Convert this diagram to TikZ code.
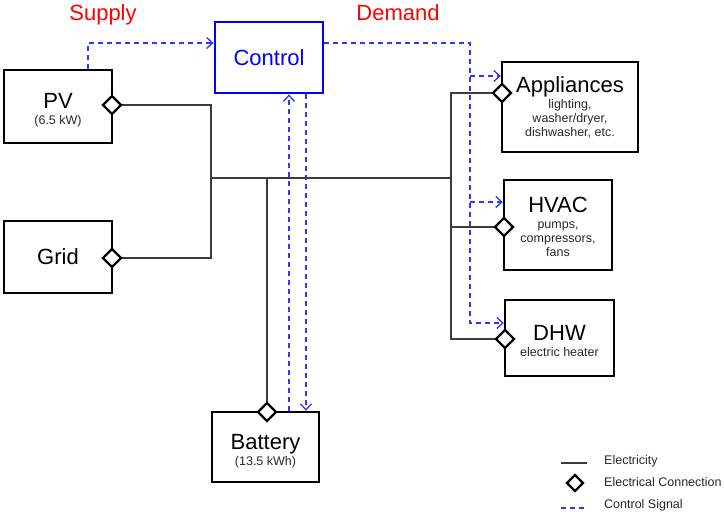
\documentclass[tikz,border=0pt]{standalone}
\usepackage{fontspec}
\setmainfont{Liberation Sans}
\usetikzlibrary{shapes.geometric,arrows.meta}
\definecolor{ctlblue}{RGB}{45,55,255}
\definecolor{elecc}{RGB}{60,60,60}
\definecolor{subc}{RGB}{40,40,40}
\newcommand\subt{\fontsize{12.5}{14}\selectfont\color{subc}}
\begin{document}
\begin{tikzpicture}[x=1pt,y=-1pt,
  box/.style={draw=black, line width=2.4pt, inner sep=0pt, align=center,
              font=\fontsize{22}{24}\selectfont},
  conn/.style={diamond, draw=black, line width=2.3pt, fill=white, inner sep=0pt,
               minimum width=19pt, minimum height=19pt},
  elec/.style={draw=elecc, line width=1.4pt},
  ctl/.style={draw=ctlblue, line width=1.3pt, dash pattern=on 5pt off 4pt},
  ctla/.style={ctl, -{Straight Barb[length=6pt,width=11pt]}},
  head/.style={text=red, font=\fontsize{22}{24}\selectfont, inner sep=0pt},
  legt/.style={anchor=west, inner sep=0pt, text=subc, font=\fontsize{12.5}{14}\selectfont}
]
\useasboundingbox (0,0) rectangle (724,516);

% headings
\node[head] (supply) at (103,15) {Supply};
\node[head] (demand) at (398,13) {Demand};

% boxes
\node[box, minimum width=108pt, minimum height=73pt] (pv) at (58,106.5)
  {\rule{0pt}{23pt}PV\\[-8pt]{\subt (6.5 kW)}};
\node[box, minimum width=108pt, minimum height=72pt] (grid) at (58,257) {Grid};
\node[box, draw=blue, line width=2.8pt, text=blue, minimum width=108pt, minimum height=71pt]
  (ctrl) at (269,57.5) {Control};
\node[box, minimum width=107pt, minimum height=70pt] (bat) at (265.5,447)
  {\rule{0pt}{23pt}Battery\\[-8pt]{\subt (13.5 kWh)}};
\node[box, minimum width=136pt, minimum height=90pt] (app) at (570,107)
  {Appliances\\[-8pt]{\subt lighting,}\\[-10pt]{\subt washer/dryer,}\\[-10pt]{\subt dishwasher, etc.}};
\node[box, minimum width=108pt, minimum height=90pt] (hvac) at (558,225)
  {\rule{0pt}{20pt}HVAC\\[-8pt]{\subt pumps,}\\[-10pt]{\subt compressors,}\\[-10pt]{\subt fans}};
\node[box, minimum width=109pt, minimum height=76pt] (dhw) at (559.5,338)
  {\rule{0pt}{22pt}DHW\\[-8pt]{\subt electric heater}};

% connection points
\coordinate (pvc) at (112,105);
\coordinate (gridc) at (112,258);
\coordinate (batc) at (267,412);
\coordinate (appc) at (502,93);
\coordinate (hvacc) at (504,227);
\coordinate (dhwc) at (505,339);

% bus coordinates
\coordinate (lbus) at (211,178);
\coordinate (rbus) at (451,178);

% electricity
\draw[elec] (pvc) -| (lbus) |- (gridc);
\draw[elec] (lbus) -- (rbus);
\draw[elec] (lbus -| batc) -- (batc);
\draw[elec] (appc) -| (rbus) |- (dhwc);
\draw[elec] (rbus |- hvacc) -- (hvacc);

% control signals
\coordinate (pvs) at (88,43);
\coordinate (dmd) at (470,43);
\coordinate (bup) at (289,0);
\coordinate (bdn) at (306,0);
\draw[ctla] (pv.north -| pvs) -- (pvs) -- (ctrl.west |- pvs);
\draw[ctla] (ctrl.east |- dmd) -- (dmd) |- (dhw.west |- 0,323);
\draw[ctla] (dmd |- 0,76) -- (app.west |- 0,76);
\draw[ctla] (dmd |- 0,202) -- (hvac.west |- 0,202);
\draw[ctla] (bat.north -| bup) -- (ctrl.south -| bup);
\draw[ctla] (ctrl.south -| bdn) -- (bat.north -| bdn);

% connectors (diamonds)
\node[conn] (pvd) at (pvc) {};
\node[conn] (gridd) at (gridc) {};
\node[conn] (batd) at (batc) {};
\node[conn] (appd) at (appc) {};
\node[conn] (hvacd) at (hvacc) {};
\node[conn] (dhwd) at (dhwc) {};

% legend
\coordinate (l1a) at (561,463);
\coordinate (l1b) at (587,463);
\coordinate (l3a) at (561,508);
\coordinate (l3b) at (587,508);
\draw[elec] (l1a) -- (l1b);
\node[conn, minimum width=17pt, minimum height=17pt] (legd) at (575,483) {};
\draw[ctl] (l3a) -- (l3b);
\node[legt] (lt1) at (604,461) {Electricity};
\node[legt] (lt2) at (604,482) {Electrical Connection};
\node[legt] (lt3) at (604,505) {Control Signal};
\end{tikzpicture}
\end{document}
